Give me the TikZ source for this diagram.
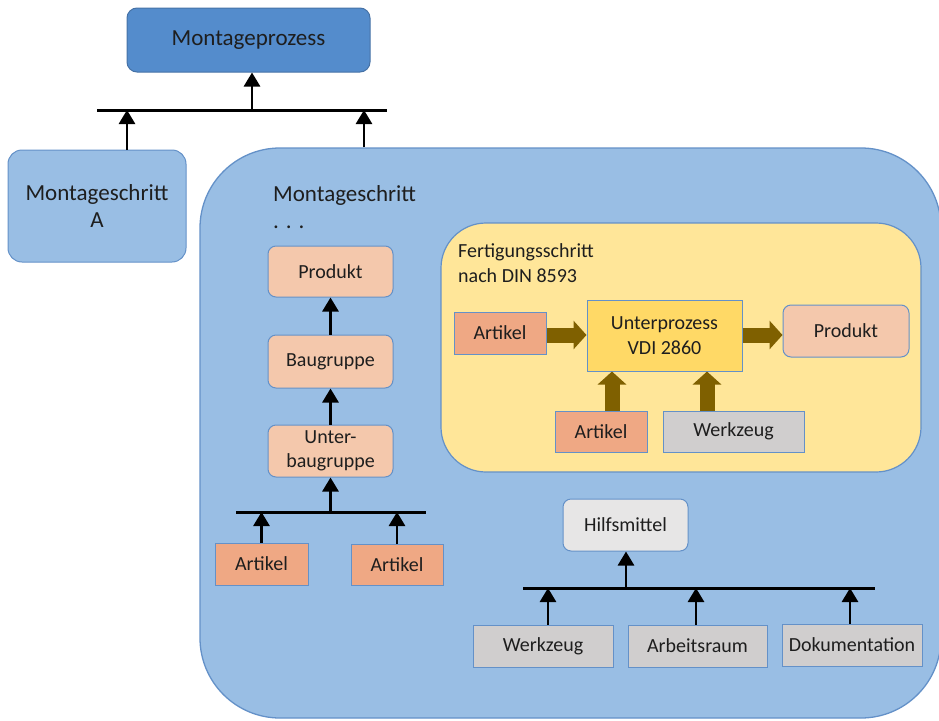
\documentclass[tikz,border=0pt]{standalone}
\usepackage{fontspec}
\setmainfont{Carlito}
\usetikzlibrary{arrows.meta}
\definecolor{darkb}{RGB}{84,140,204}
\definecolor{darkbd}{RGB}{70,114,166}
\definecolor{lightb}{RGB}{153,190,228}
\definecolor{bord}{RGB}{100,145,200}
\definecolor{peach}{RGB}{244,200,172}
\definecolor{orng}{RGB}{239,168,132}
\definecolor{yel}{RGB}{255,230,153}
\definecolor{gold}{RGB}{255,217,102}
\definecolor{grayc}{RGB}{208,206,206}
\definecolor{lgray}{RGB}{231,230,230}
\definecolor{brn}{RGB}{127,96,0}
\definecolor{txt}{RGB}{30,30,30}
\tikzset{
  every node/.style={font=\fontsize{20}{25}\selectfont, text=txt},
  box/.style={draw=bord, line width=1pt, inner sep=0pt, align=center},
  peachbox/.style={box, fill=peach, rounded corners=8pt},
  artbox/.style={box, fill=orng},
  graybox/.style={box, fill=grayc},
  conn/.style={line width=2.8pt, draw=black, -{Triangle[length=14pt,width=16pt]}},
  barline/.style={line width=3pt, draw=black},
  brownarrow/.style={line width=15pt, draw=brn, -{Triangle[length=13pt,width=28pt]}},
  bigfont/.style={font=\fontsize{23}{27}\selectfont}
}
\begin{document}
\begin{tikzpicture}[x=1pt,y=-1pt]
\useasboundingbox (0,0) rectangle (939,720);

% top level
\node[box, bigfont, fill=darkb, draw=darkbd, rounded corners=10pt, minimum width=243pt, minimum height=64pt] (mp) at (248.5,40) {Montageprozess};
\node[box, bigfont, fill=lightb, draw=bord, rounded corners=14pt, minimum width=178pt, minimum height=112pt] (msA) at (97,206) {Montageschritt\\A};

\begin{scope}
\clip (0,0) rectangle (939,720);
\node[box, fill=lightb, draw=bord, line width=1.3pt, rounded corners=80pt, minimum width=741pt, minimum height=570pt] (ms) at (570.5,433) {};
\end{scope}

\coordinate (b1l) at (97,110);
\coordinate (b1r) at (387,110);
\draw[barline] (b1l) -- (b1r);
\coordinate (b1m) at (252,110);
\coordinate (b1a) at (127,110);
\coordinate (b1b) at (364,110);
\draw[conn] (b1m) -- (mp.south -| b1m);
\draw[conn] (msA.north -| b1a) -- (b1a);
\draw[conn] (ms.north -| b1b) -- (b1b);

\node[bigfont, anchor=north west, align=left, inner sep=0pt] (msl) at (273,185) {Montageschritt\\. . .};

% left column
\node[peachbox, minimum width=125pt, minimum height=51pt] (prod1) at (330.5,271.5) {Produkt};
\node[peachbox, minimum width=125pt, minimum height=53pt] (bau) at (330.5,361.5) {Baugruppe};
\node[peachbox, minimum width=125pt, minimum height=52pt] (ubg) at (330.5,451) {Unter-\\[-1pt]baugruppe};
\draw[conn] (bau.north) -- (prod1.south);
\draw[conn] (ubg.north) -- (bau.south);

\coordinate (b2l) at (236,512);
\coordinate (b2r) at (426,512);
\draw[barline] (b2l) -- (b2r);
\coordinate (b2m) at (330.5,512);
\draw[conn] (b2m) -- (ubg.south);
\node[artbox, minimum width=93pt, minimum height=42pt] (art1) at (261.5,564) {Artikel};
\node[artbox, minimum width=92pt, minimum height=41pt] (art2) at (397,565) {Artikel};
\draw[conn] (art1.north) -- (art1.north |- b2l);
\draw[conn] (art2.north) -- (art2.north |- b2l);

% yellow box
\node[box, fill=yel, draw=bord, line width=1.2pt, rounded corners=45pt, minimum width=480pt, minimum height=249pt] (fb) at (681,347.5) {};
\node[anchor=north west, align=left, inner sep=0pt] (fbl) at (458,243) {Fertigungsschritt\\nach DIN 8593};
\node[artbox, minimum width=92pt, minimum height=42pt] (art3) at (500,333) {Artikel};
\node[box, fill=gold, minimum width=155pt, minimum height=71pt] (up) at (664.5,335.5) {Unterprozess\\VDI 2860};
\node[peachbox, minimum width=126pt, minimum height=52pt] (prod2) at (846,331) {Produkt};
\node[artbox, minimum width=92pt, minimum height=41pt] (art4) at (601,431.5) {Artikel};
\node[graybox, minimum width=141pt, minimum height=41pt] (wz1) at (733.5,431.5) {Werkzeug};
\coordinate (ya) at (0,335);
\coordinate (yb) at (612,0);
\coordinate (yc) at (707,0);
\draw[brownarrow] (art3.east |- ya) -- (up.west |- ya);
\draw[brownarrow] (up.east |- ya) -- (prod2.west |- ya);
\draw[brownarrow] (art4.north -| yb) -- (up.south -| yb);
\draw[brownarrow] (wz1.north -| yc) -- (up.south -| yc);

% Hilfsmittel
\node[box, fill=lgray, rounded corners=8pt, minimum width=125pt, minimum height=52pt] (hm) at (625.5,525) {Hilfsmittel};
\coordinate (b3l) at (523,588);
\coordinate (b3r) at (875,588);
\draw[barline] (b3l) -- (b3r);
\coordinate (b3m) at (626,588);
\draw[conn] (b3m) -- (hm.south -| b3m);
\node[graybox, minimum width=140pt, minimum height=42pt] (wz2) at (543,646) {Werkzeug};
\node[graybox, minimum width=139pt, minimum height=42pt] (ar) at (697.5,646) {Arbeitsraum};
\node[graybox, minimum width=140pt, minimum height=42pt] (dok) at (852,645) {Dokumentation};
\coordinate (c1) at (548,0);
\coordinate (c2) at (696,0);
\coordinate (c3) at (850,0);
\draw[conn] (wz2.north -| c1) -- (b3l -| c1);
\draw[conn] (ar.north -| c2) -- (b3l -| c2);
\draw[conn] (dok.north -| c3) -- (b3l -| c3);
\end{tikzpicture}
\end{document}
